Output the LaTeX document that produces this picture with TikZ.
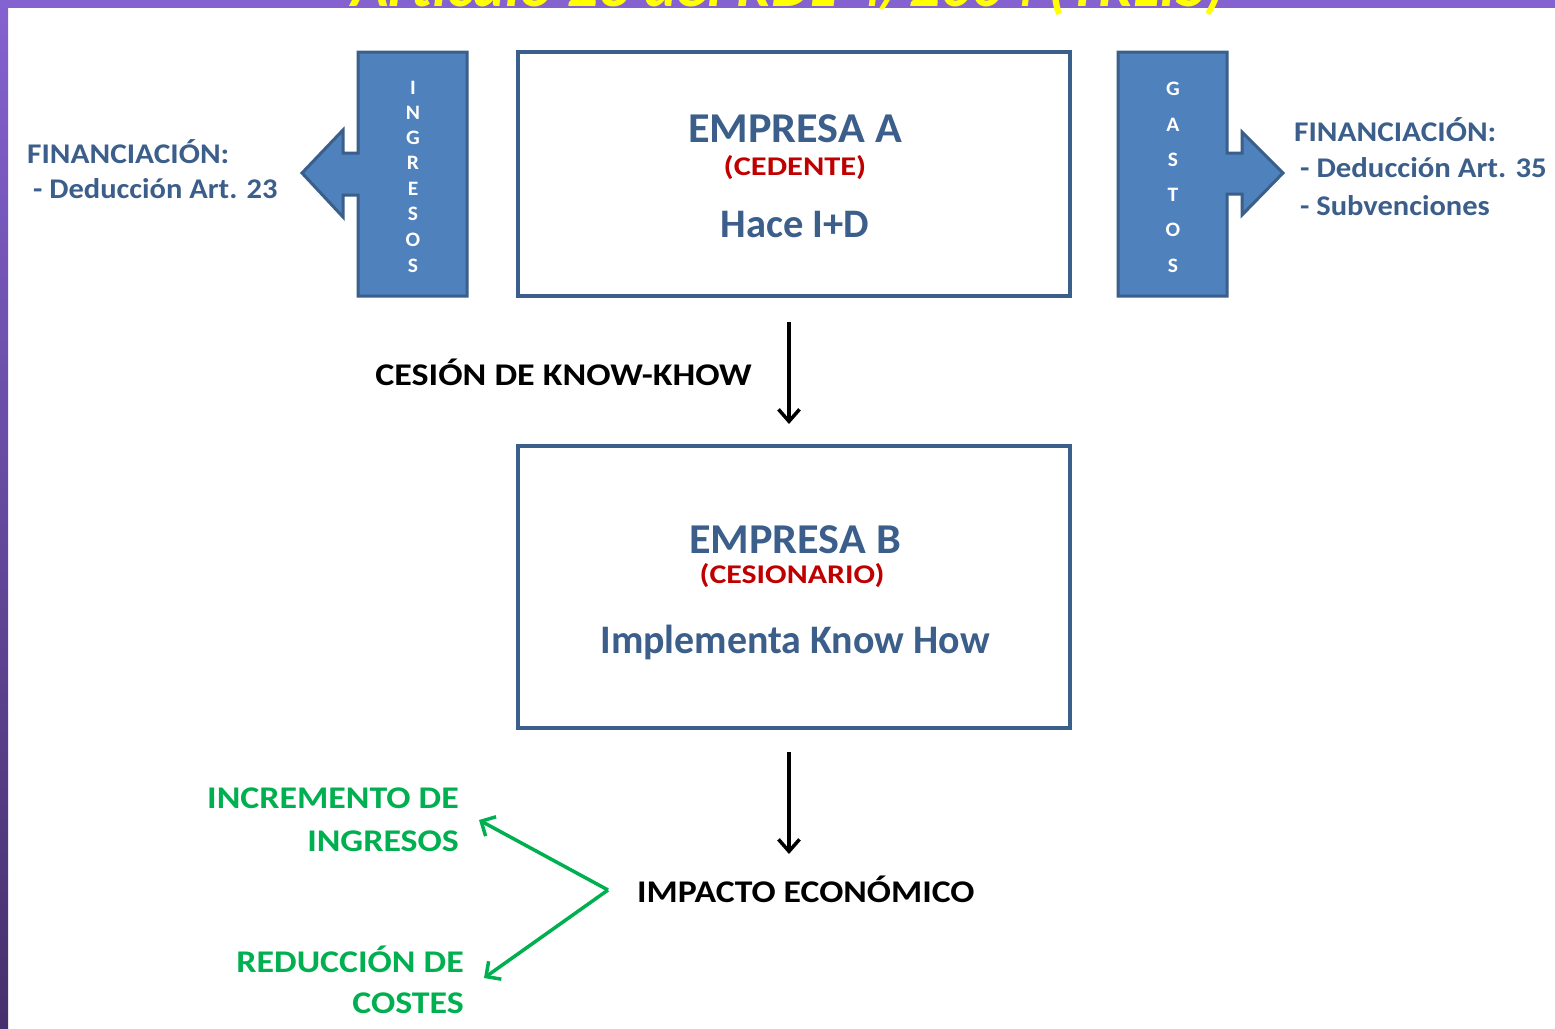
\documentclass[tikz,border=0pt]{standalone}
\usepackage{fontspec}
\usepackage{graphicx}
\setmainfont{Carlito}
\usetikzlibrary{arrows.meta}
\definecolor{boxblue}{HTML}{3A5F8B}
\definecolor{fillblue}{HTML}{4F81BD}
\definecolor{txtblue}{HTML}{3B5E8A}
\definecolor{redc}{HTML}{C00000}
\definecolor{greenc}{HTML}{00B050}
\definecolor{purtop}{HTML}{8462D0}
\definecolor{purbot}{HTML}{46306C}
\definecolor{titley}{HTML}{FFFF00}
\newcommand{\sx}[2]{\scalebox{#1}[1]{#2}}
\begin{document}
\begin{tikzpicture}[x=1pt,y=-1pt,
  bigbox/.style={draw=boxblue,line width=3.5pt,fill=white},
  barshape/.style={draw=boxblue,line width=3pt,fill=fillblue,line join=miter},
  vlet/.style={text=white,font=\fontsize{20.5}{20.5}\selectfont\bfseries,inner sep=0pt},
  bigt/.style={text=txtblue,font=\fontsize{42.5}{42.5}\selectfont\bfseries,inner sep=0pt,anchor=base},
  redt/.style={text=redc,font=\fontsize{27}{27}\selectfont\bfseries,inner sep=0pt,anchor=base},
  midt/.style={text=txtblue,font=\fontsize{40.5}{40.5}\selectfont\bfseries,inner sep=0pt,anchor=base},
  fin/.style={text=txtblue,font=\fontsize{28.5}{28.5}\selectfont\bfseries,inner sep=0pt,anchor=base west},
  blk/.style={text=black,font=\fontsize{31.6}{31.6}\selectfont\bfseries,inner sep=0pt},
  grn/.style={text=greenc,font=\fontsize{31.6}{31.6}\selectfont\bfseries,inner sep=0pt,anchor=base east},
  downarr/.style={draw=black,line width=3.5pt,-{Straight Barb[length=12pt,width=21pt,line width=3.5pt]}},
  grnarr/.style={draw=greenc,line width=3.5pt,-{Straight Barb[length=11pt,width=22pt,line width=3.5pt]}}]
\useasboundingbox (0,0) rectangle (1555,1028);
\fill[white] (0,0) rectangle (1555,1028);
% purple frame
\fill[purtop] (0,0) rectangle (1555,8);
\shade[top color=purtop,bottom color=purbot] (0,0) rectangle (8,1028);
\node[text=titley,font=\fontsize{62}{62}\selectfont\bfseries\itshape,anchor=base,inner sep=0pt] (title) at (788,6) {Artículo 23 del RDL 4/2004 (TRLIS)};
% boxes
\draw[bigbox] (518,52) rectangle (1070,296);
\draw[bigbox] (518,446) rectangle (1070,728);
\node[bigt] (ea) at (795,142) {\sx{1.04}{EMPRESA A}};
\node[redt] (ced) at (795,175) {\sx{1.2}{(CEDENTE)}};
\node[midt] (hace) at (795,237) {\sx{1.0}{Hace I+D}};
\node[bigt] (eb) at (795,553) {\sx{1.04}{EMPRESA B}};
\node[redt] (ces) at (792,583) {\sx{1.18}{(CESIONARIO)}};
\node[midt] (impl) at (795,653) {\sx{0.985}{Implementa Know How}};
% ingresos bar with left arrow
\draw[barshape] (467,52) -- (358,52) -- (358,153) -- (343,153) -- (343,130) -- (302,173) -- (343,217) -- (343,195) -- (358,195) -- (358,296) -- (467,296) -- cycle;
\foreach \l/\yy [count=\i] in {I/88,N/113,G/138,R/163,E/189,S/214,O/240,S/266}
  \node[vlet] (ing\i) at (413,\yy) {\sx{1.05}{\l}};
% gastos bar with right arrow
\draw[barshape] (1118,52) -- (1227,52) -- (1227,153) -- (1242,153) -- (1242,132) -- (1283,173) -- (1242,215) -- (1242,194) -- (1227,194) -- (1227,296) -- (1118,296) -- cycle;
\foreach \l/\yy [count=\i] in {G/89,A/125,S/160,T/195,O/230,S/266}
  \node[vlet] (gas\i) at (1173,\yy) {\sx{1.05}{\l}};
% financing texts
\node[fin] (finL) at (27,163) {\sx{1.1}{FINANCIACIÓN:}};
\node[fin] (dedL) at (33,198) {\sx{1.07}{- Deducción Art. 23}};
\node[fin] (finR) at (1294,141) {\sx{1.1}{FINANCIACIÓN:}};
\node[fin] (dedR) at (1300,177) {\sx{1.08}{- Deducción Art. 35}};
\node[fin] (subR) at (1300,215) {\sx{1.07}{- Subvenciones}};
% cesion arrow
\coordinate (a1s) at (789,322);
\coordinate (a1e) at (789,424);
\draw[downarr] (a1s) -- (a1e);
\node[blk,anchor=base east] (cesion) at (752,385) {\sx{1.14}{CESIÓN DE KNOW-KHOW}};
% impacto
\coordinate (a2s) at (789,752);
\coordinate (a2e) at (789,854);
\draw[downarr] (a2s) -- (a2e);
\node[blk,anchor=base west] (impacto) at (637,902) {\sx{1.13}{IMPACTO ECONÓMICO}};
\coordinate (apex) at (608,890);
\coordinate (upend) at (479,820);
\coordinate (dnend) at (484,978);
\draw[grnarr] (apex) -- (upend);
\draw[grnarr] (apex) -- (dnend);
\node[grn] (inc1) at (459,808) {\sx{1.135}{INCREMENTO DE}};
\node[grn] (inc2) at (459,851) {\sx{1.135}{INGRESOS}};
\node[grn] (red1) at (464,972) {\sx{1.135}{REDUCCIÓN DE}};
\node[grn] (red2) at (464,1013) {\sx{1.135}{COSTES}};
\end{tikzpicture}
\end{document}
